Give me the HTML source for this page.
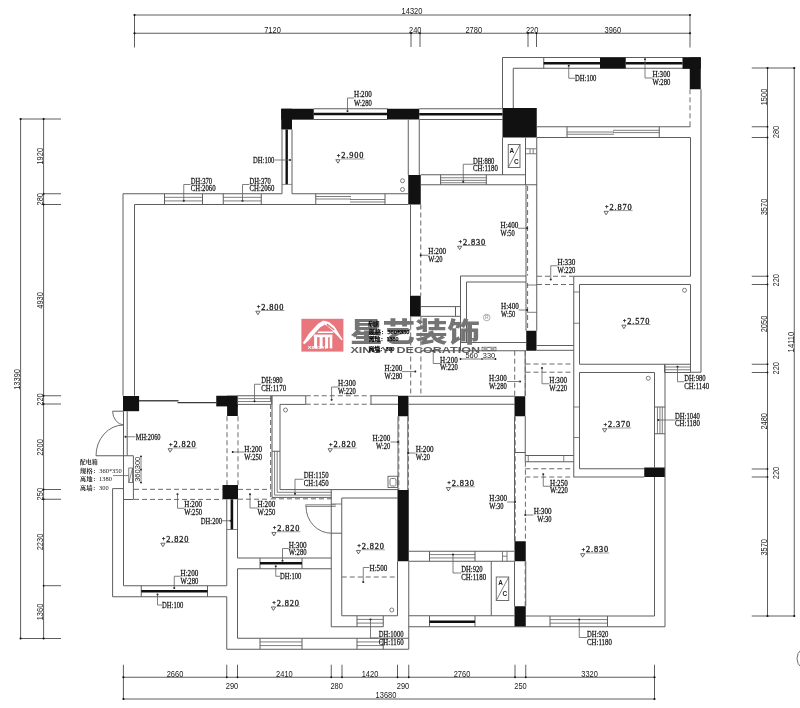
<!DOCTYPE html>
<html lang="zh">
<head>
<meta charset="utf-8">
<title>原始结构图 - 星艺装饰</title>
<style>
html,body{margin:0;padding:0;background:#fff;}
body{width:800px;height:708px;overflow:hidden;}
svg{display:block;}
.lab{font-family:"Liberation Serif","Noto Serif CJK SC",serif;}
.dim{font-family:"Liberation Sans","Noto Sans CJK SC",sans-serif;}
.cn{font-family:"Liberation Serif","Noto Serif CJK SC",serif;font-weight:500;}
.logo-cn{font-family:"Liberation Sans","Noto Sans CJK SC",sans-serif;font-weight:900;}
.logo-en{font-family:"Liberation Sans","Noto Sans CJK SC",sans-serif;font-weight:700;}
</style>
</head>
<body>
<svg width="800" height="708" viewBox="0 0 800 708">
<rect x="0" y="0" width="800" height="708" fill="#ffffff"/>
<g opacity="0.999">
<line x1="134.5" y1="15" x2="690" y2="15" stroke="#5e5e5e" stroke-width="1.0"/>
<line x1="134.5" y1="33.25" x2="690" y2="33.25" stroke="#5e5e5e" stroke-width="1.0"/>
<line x1="134.5" y1="15" x2="134.5" y2="47.5" stroke="#5e5e5e" stroke-width="1.0"/>
<line x1="690" y1="15" x2="690" y2="47.5" stroke="#5e5e5e" stroke-width="1.0"/>
<line x1="411" y1="33.25" x2="411" y2="47" stroke="#5e5e5e" stroke-width="1.0"/>
<line x1="420" y1="33.25" x2="420" y2="47" stroke="#5e5e5e" stroke-width="1.0"/>
<line x1="528" y1="33.25" x2="528" y2="47" stroke="#5e5e5e" stroke-width="1.0"/>
<line x1="536.5" y1="33.25" x2="536.5" y2="47" stroke="#5e5e5e" stroke-width="1.0"/>
<circle cx="134.5" cy="15" r="1.1" fill="#111"/>
<circle cx="134.5" cy="33.25" r="1.1" fill="#111"/>
<circle cx="690" cy="15" r="1.1" fill="#111"/>
<circle cx="690" cy="33.25" r="1.1" fill="#111"/>
<circle cx="411" cy="33.25" r="0.9" fill="#111"/>
<circle cx="420" cy="33.25" r="0.9" fill="#111"/>
<circle cx="528" cy="33.25" r="0.9" fill="#111"/>
<circle cx="536.5" cy="33.25" r="0.9" fill="#111"/>
<text class="dim" x="401.62" y="14.3" font-size="8.6" text-anchor="start" fill="#1a1a1a" textLength="20.75" lengthAdjust="spacingAndGlyphs">14320</text>
<text class="dim" x="264.2" y="32.6" font-size="8.6" text-anchor="start" fill="#1a1a1a" textLength="16.6" lengthAdjust="spacingAndGlyphs">7120</text>
<text class="dim" x="409.07" y="32.6" font-size="8.6" text-anchor="start" fill="#1a1a1a" textLength="12.45" lengthAdjust="spacingAndGlyphs">240</text>
<text class="dim" x="465.45" y="32.6" font-size="8.6" text-anchor="start" fill="#1a1a1a" textLength="16.6" lengthAdjust="spacingAndGlyphs">2780</text>
<text class="dim" x="525.98" y="32.6" font-size="8.6" text-anchor="start" fill="#1a1a1a" textLength="12.45" lengthAdjust="spacingAndGlyphs">220</text>
<text class="dim" x="604.5" y="32.6" font-size="8.6" text-anchor="start" fill="#1a1a1a" textLength="16.6" lengthAdjust="spacingAndGlyphs">3960</text>
<line x1="20.6" y1="119" x2="20.6" y2="638.5" stroke="#5e5e5e" stroke-width="1.0"/>
<line x1="43.6" y1="119" x2="43.6" y2="638.5" stroke="#5e5e5e" stroke-width="1.0"/>
<line x1="20.6" y1="119" x2="61" y2="119" stroke="#5e5e5e" stroke-width="1.0"/>
<line x1="20.6" y1="638.5" x2="61" y2="638.5" stroke="#5e5e5e" stroke-width="1.0"/>
<line x1="43.6" y1="193.75" x2="61" y2="193.75" stroke="#5e5e5e" stroke-width="1.0"/>
<circle cx="43.6" cy="193.75" r="0.9" fill="#111"/>
<line x1="43.6" y1="204.5" x2="61" y2="204.5" stroke="#5e5e5e" stroke-width="1.0"/>
<circle cx="43.6" cy="204.5" r="0.9" fill="#111"/>
<line x1="43.6" y1="395.75" x2="61" y2="395.75" stroke="#5e5e5e" stroke-width="1.0"/>
<circle cx="43.6" cy="395.75" r="0.9" fill="#111"/>
<line x1="43.6" y1="404" x2="61" y2="404" stroke="#5e5e5e" stroke-width="1.0"/>
<circle cx="43.6" cy="404" r="0.9" fill="#111"/>
<line x1="43.6" y1="489.5" x2="61" y2="489.5" stroke="#5e5e5e" stroke-width="1.0"/>
<circle cx="43.6" cy="489.5" r="0.9" fill="#111"/>
<line x1="43.6" y1="499.25" x2="61" y2="499.25" stroke="#5e5e5e" stroke-width="1.0"/>
<circle cx="43.6" cy="499.25" r="0.9" fill="#111"/>
<line x1="43.6" y1="585.7" x2="61" y2="585.7" stroke="#5e5e5e" stroke-width="1.0"/>
<circle cx="43.6" cy="585.7" r="0.9" fill="#111"/>
<circle cx="20.6" cy="119" r="1.1" fill="#111"/>
<circle cx="43.6" cy="119" r="1.1" fill="#111"/>
<circle cx="20.6" cy="638.5" r="1.1" fill="#111"/>
<circle cx="43.6" cy="638.5" r="1.1" fill="#111"/>
<text class="dim" font-size="8.6" x="-10.375" y="0" textLength="20.75" lengthAdjust="spacingAndGlyphs" fill="#1a1a1a" transform="translate(20,379.4) rotate(-90)">13390</text>
<text class="dim" font-size="8.6" x="-8.3" y="0" textLength="16.6" lengthAdjust="spacingAndGlyphs" fill="#1a1a1a" transform="translate(43.2,156.25) rotate(-90)">1920</text>
<text class="dim" font-size="8.6" x="-6.225" y="0" textLength="12.45" lengthAdjust="spacingAndGlyphs" fill="#1a1a1a" transform="translate(43.2,199.25) rotate(-90)">280</text>
<text class="dim" font-size="8.6" x="-8.3" y="0" textLength="16.6" lengthAdjust="spacingAndGlyphs" fill="#1a1a1a" transform="translate(43.2,300.4) rotate(-90)">4930</text>
<text class="dim" font-size="8.6" x="-6.225" y="0" textLength="12.45" lengthAdjust="spacingAndGlyphs" fill="#1a1a1a" transform="translate(43.2,399.5) rotate(-90)">220</text>
<text class="dim" font-size="8.6" x="-8.3" y="0" textLength="16.6" lengthAdjust="spacingAndGlyphs" fill="#1a1a1a" transform="translate(43.2,447.5) rotate(-90)">2200</text>
<text class="dim" font-size="8.6" x="-6.225" y="0" textLength="12.45" lengthAdjust="spacingAndGlyphs" fill="#1a1a1a" transform="translate(43.2,494.2) rotate(-90)">250</text>
<text class="dim" font-size="8.6" x="-8.3" y="0" textLength="16.6" lengthAdjust="spacingAndGlyphs" fill="#1a1a1a" transform="translate(43.2,542) rotate(-90)">2230</text>
<text class="dim" font-size="8.6" x="-8.3" y="0" textLength="16.6" lengthAdjust="spacingAndGlyphs" fill="#1a1a1a" transform="translate(43.2,612) rotate(-90)">1360</text>
<line x1="767.5" y1="68" x2="767.5" y2="616" stroke="#5e5e5e" stroke-width="1.0"/>
<line x1="794.25" y1="68" x2="794.25" y2="616" stroke="#5e5e5e" stroke-width="1.0"/>
<line x1="751.75" y1="68" x2="794.25" y2="68" stroke="#5e5e5e" stroke-width="1.0"/>
<line x1="751.75" y1="616" x2="794.25" y2="616" stroke="#5e5e5e" stroke-width="1.0"/>
<line x1="751.75" y1="126.75" x2="767.5" y2="126.75" stroke="#5e5e5e" stroke-width="1.0"/>
<circle cx="767.5" cy="126.75" r="0.9" fill="#111"/>
<line x1="751.75" y1="137.5" x2="767.5" y2="137.5" stroke="#5e5e5e" stroke-width="1.0"/>
<circle cx="767.5" cy="137.5" r="0.9" fill="#111"/>
<line x1="751.75" y1="276.25" x2="767.5" y2="276.25" stroke="#5e5e5e" stroke-width="1.0"/>
<circle cx="767.5" cy="276.25" r="0.9" fill="#111"/>
<line x1="751.75" y1="284.5" x2="767.5" y2="284.5" stroke="#5e5e5e" stroke-width="1.0"/>
<circle cx="767.5" cy="284.5" r="0.9" fill="#111"/>
<line x1="751.75" y1="364.25" x2="767.5" y2="364.25" stroke="#5e5e5e" stroke-width="1.0"/>
<circle cx="767.5" cy="364.25" r="0.9" fill="#111"/>
<line x1="751.75" y1="372.5" x2="767.5" y2="372.5" stroke="#5e5e5e" stroke-width="1.0"/>
<circle cx="767.5" cy="372.5" r="0.9" fill="#111"/>
<line x1="751.75" y1="469" x2="767.5" y2="469" stroke="#5e5e5e" stroke-width="1.0"/>
<circle cx="767.5" cy="469" r="0.9" fill="#111"/>
<line x1="751.75" y1="477" x2="767.5" y2="477" stroke="#5e5e5e" stroke-width="1.0"/>
<circle cx="767.5" cy="477" r="0.9" fill="#111"/>
<circle cx="767.5" cy="68" r="1.1" fill="#111"/>
<circle cx="794.25" cy="68" r="1.1" fill="#111"/>
<circle cx="767.5" cy="616" r="1.1" fill="#111"/>
<circle cx="794.25" cy="616" r="1.1" fill="#111"/>
<text class="dim" font-size="8.6" x="-8.3" y="0" textLength="16.6" lengthAdjust="spacingAndGlyphs" fill="#1a1a1a" transform="translate(767,97) rotate(-90)">1500</text>
<text class="dim" font-size="8.6" x="-8.3" y="0" textLength="16.6" lengthAdjust="spacingAndGlyphs" fill="#1a1a1a" transform="translate(767,207) rotate(-90)">3570</text>
<text class="dim" font-size="8.6" x="-8.3" y="0" textLength="16.6" lengthAdjust="spacingAndGlyphs" fill="#1a1a1a" transform="translate(767,324) rotate(-90)">2050</text>
<text class="dim" font-size="8.6" x="-8.3" y="0" textLength="16.6" lengthAdjust="spacingAndGlyphs" fill="#1a1a1a" transform="translate(767,421.3) rotate(-90)">2480</text>
<text class="dim" font-size="8.6" x="-8.3" y="0" textLength="16.6" lengthAdjust="spacingAndGlyphs" fill="#1a1a1a" transform="translate(767,547.3) rotate(-90)">3570</text>
<text class="dim" font-size="8.6" x="-6.225" y="0" textLength="12.45" lengthAdjust="spacingAndGlyphs" fill="#1a1a1a" transform="translate(779.2,132) rotate(-90)">280</text>
<text class="dim" font-size="8.6" x="-6.225" y="0" textLength="12.45" lengthAdjust="spacingAndGlyphs" fill="#1a1a1a" transform="translate(779.2,280.3) rotate(-90)">220</text>
<text class="dim" font-size="8.6" x="-6.225" y="0" textLength="12.45" lengthAdjust="spacingAndGlyphs" fill="#1a1a1a" transform="translate(779.2,368.3) rotate(-90)">220</text>
<text class="dim" font-size="8.6" x="-6.225" y="0" textLength="12.45" lengthAdjust="spacingAndGlyphs" fill="#1a1a1a" transform="translate(779.2,473) rotate(-90)">220</text>
<text class="dim" font-size="8.6" x="-10.375" y="0" textLength="20.75" lengthAdjust="spacingAndGlyphs" fill="#1a1a1a" transform="translate(793.8,342) rotate(-90)">14110</text>
<line x1="123.4" y1="677.25" x2="654.5" y2="677.25" stroke="#5e5e5e" stroke-width="1.0"/>
<line x1="123.4" y1="699" x2="654.5" y2="699" stroke="#5e5e5e" stroke-width="1.0"/>
<line x1="123.4" y1="664.7" x2="123.4" y2="699" stroke="#5e5e5e" stroke-width="1.0"/>
<line x1="654.5" y1="664.7" x2="654.5" y2="699" stroke="#5e5e5e" stroke-width="1.0"/>
<line x1="226.75" y1="664.7" x2="226.75" y2="677.25" stroke="#5e5e5e" stroke-width="1.0"/>
<circle cx="226.75" cy="677.25" r="0.9" fill="#111"/>
<line x1="237.5" y1="664.7" x2="237.5" y2="677.25" stroke="#5e5e5e" stroke-width="1.0"/>
<circle cx="237.5" cy="677.25" r="0.9" fill="#111"/>
<line x1="331.25" y1="664.7" x2="331.25" y2="677.25" stroke="#5e5e5e" stroke-width="1.0"/>
<circle cx="331.25" cy="677.25" r="0.9" fill="#111"/>
<line x1="342" y1="664.7" x2="342" y2="677.25" stroke="#5e5e5e" stroke-width="1.0"/>
<circle cx="342" cy="677.25" r="0.9" fill="#111"/>
<line x1="397.5" y1="664.7" x2="397.5" y2="677.25" stroke="#5e5e5e" stroke-width="1.0"/>
<circle cx="397.5" cy="677.25" r="0.9" fill="#111"/>
<line x1="408.75" y1="664.7" x2="408.75" y2="677.25" stroke="#5e5e5e" stroke-width="1.0"/>
<circle cx="408.75" cy="677.25" r="0.9" fill="#111"/>
<line x1="515" y1="664.7" x2="515" y2="677.25" stroke="#5e5e5e" stroke-width="1.0"/>
<circle cx="515" cy="677.25" r="0.9" fill="#111"/>
<line x1="525.75" y1="664.7" x2="525.75" y2="677.25" stroke="#5e5e5e" stroke-width="1.0"/>
<circle cx="525.75" cy="677.25" r="0.9" fill="#111"/>
<circle cx="123.4" cy="677.25" r="1.1" fill="#111"/>
<circle cx="123.4" cy="699" r="1.1" fill="#111"/>
<circle cx="654.5" cy="677.25" r="1.1" fill="#111"/>
<circle cx="654.5" cy="699" r="1.1" fill="#111"/>
<text class="dim" x="166.7" y="676.8" font-size="8.6" text-anchor="start" fill="#1a1a1a" textLength="16.6" lengthAdjust="spacingAndGlyphs">2660</text>
<text class="dim" x="276.1" y="676.8" font-size="8.6" text-anchor="start" fill="#1a1a1a" textLength="16.6" lengthAdjust="spacingAndGlyphs">2410</text>
<text class="dim" x="361.7" y="676.8" font-size="8.6" text-anchor="start" fill="#1a1a1a" textLength="16.6" lengthAdjust="spacingAndGlyphs">1420</text>
<text class="dim" x="453.7" y="676.8" font-size="8.6" text-anchor="start" fill="#1a1a1a" textLength="16.6" lengthAdjust="spacingAndGlyphs">2760</text>
<text class="dim" x="581.3" y="676.8" font-size="8.6" text-anchor="start" fill="#1a1a1a" textLength="16.6" lengthAdjust="spacingAndGlyphs">3320</text>
<text class="dim" x="225.78" y="689" font-size="8.6" text-anchor="start" fill="#1a1a1a" textLength="12.45" lengthAdjust="spacingAndGlyphs">290</text>
<text class="dim" x="330.38" y="689" font-size="8.6" text-anchor="start" fill="#1a1a1a" textLength="12.45" lengthAdjust="spacingAndGlyphs">280</text>
<text class="dim" x="396.77" y="689" font-size="8.6" text-anchor="start" fill="#1a1a1a" textLength="12.45" lengthAdjust="spacingAndGlyphs">290</text>
<text class="dim" x="514.27" y="689" font-size="8.6" text-anchor="start" fill="#1a1a1a" textLength="12.45" lengthAdjust="spacingAndGlyphs">250</text>
<text class="dim" x="375.62" y="698.4" font-size="8.6" text-anchor="start" fill="#1a1a1a" textLength="20.75" lengthAdjust="spacingAndGlyphs">13680</text>
<ellipse cx="812" cy="658.5" rx="15" ry="13" fill="none" stroke="#5e5e5e" stroke-width="0.9"/>
<line x1="123" y1="193.75" x2="123" y2="395.75" stroke="#5e5e5e" stroke-width="1.0"/>
<line x1="134.5" y1="204.5" x2="134.5" y2="395.75" stroke="#5e5e5e" stroke-width="1.0"/>
<line x1="123" y1="193.75" x2="282" y2="193.75" stroke="#5e5e5e" stroke-width="1.0"/>
<line x1="134.5" y1="204.5" x2="408.25" y2="204.5" stroke="#5e5e5e" stroke-width="1.0"/>
<line x1="292" y1="193.75" x2="408.25" y2="193.75" stroke="#5e5e5e" stroke-width="1.0"/>
<line x1="164.5" y1="193.75" x2="164.5" y2="204.5" stroke="#5e5e5e" stroke-width="1.0"/>
<line x1="202.5" y1="193.75" x2="202.5" y2="204.5" stroke="#5e5e5e" stroke-width="1.0"/>
<line x1="164.5" y1="197.33" x2="202.5" y2="197.33" stroke="#5e5e5e" stroke-width="0.8"/>
<line x1="164.5" y1="200.92" x2="202.5" y2="200.92" stroke="#5e5e5e" stroke-width="0.8"/>
<line x1="223.25" y1="193.75" x2="223.25" y2="204.5" stroke="#5e5e5e" stroke-width="1.0"/>
<line x1="261.25" y1="193.75" x2="261.25" y2="204.5" stroke="#5e5e5e" stroke-width="1.0"/>
<line x1="223.25" y1="197.33" x2="261.25" y2="197.33" stroke="#5e5e5e" stroke-width="0.8"/>
<line x1="223.25" y1="200.92" x2="261.25" y2="200.92" stroke="#5e5e5e" stroke-width="0.8"/>
<line x1="315.75" y1="193.75" x2="315.75" y2="204.5" stroke="#5e5e5e" stroke-width="1.0"/>
<line x1="385" y1="193.75" x2="385" y2="204.5" stroke="#5e5e5e" stroke-width="1.0"/>
<line x1="315.75" y1="196.5" x2="351" y2="196.5" stroke="#5e5e5e" stroke-width="0.8"/>
<line x1="315.75" y1="199" x2="351" y2="199" stroke="#5e5e5e" stroke-width="0.8"/>
<line x1="350" y1="199.5" x2="385" y2="199.5" stroke="#5e5e5e" stroke-width="0.8"/>
<line x1="350" y1="202" x2="385" y2="202" stroke="#5e5e5e" stroke-width="0.8"/>
<rect x="281.25" y="108.75" width="32.5" height="10.75" fill="#111"/>
<rect x="281.25" y="108.75" width="10.75" height="20.75" fill="#111"/>
<line x1="313.75" y1="108.75" x2="387.5" y2="108.75" stroke="#5e5e5e" stroke-width="1.0"/>
<line x1="313.75" y1="119.5" x2="387.5" y2="119.5" stroke="#5e5e5e" stroke-width="1.0"/>
<line x1="313.75" y1="114" x2="387.5" y2="114" stroke="#111" stroke-width="2.7"/>
<rect x="387" y="108.75" width="32.25" height="10.75" fill="#111"/>
<line x1="419.25" y1="108.75" x2="502.5" y2="108.75" stroke="#5e5e5e" stroke-width="1.0"/>
<line x1="419.25" y1="119.5" x2="502.5" y2="119.5" stroke="#5e5e5e" stroke-width="1.0"/>
<line x1="419.25" y1="114.25" x2="502.5" y2="114.25" stroke="#111" stroke-width="2.7"/>
<line x1="282" y1="129.5" x2="282" y2="193.75" stroke="#5e5e5e" stroke-width="1.0"/>
<line x1="292" y1="129.5" x2="292" y2="193.75" stroke="#5e5e5e" stroke-width="1.0"/>
<line x1="286.7" y1="129.5" x2="286.7" y2="184.4" stroke="#111" stroke-width="2.4"/>
<line x1="282" y1="184.4" x2="292" y2="184.4" stroke="#5e5e5e" stroke-width="0.7"/>
<line x1="292" y1="119.5" x2="313.75" y2="119.5" stroke="#5e5e5e" stroke-width="1.0"/>
<line x1="408.25" y1="119.5" x2="408.25" y2="175" stroke="#5e5e5e" stroke-width="1.0"/>
<line x1="419.25" y1="119.5" x2="419.25" y2="175" stroke="#5e5e5e" stroke-width="1.0"/>
<rect x="408.25" y="175" width="12.5" height="29.5" fill="#111"/>
<circle cx="402.5" cy="180.75" r="2" fill="none" stroke="#5e5e5e" stroke-width="0.8"/>
<circle cx="402.5" cy="189.5" r="2" fill="none" stroke="#5e5e5e" stroke-width="0.8"/>
<line x1="420.75" y1="174.75" x2="525.5" y2="174.75" stroke="#5e5e5e" stroke-width="1.0"/>
<line x1="420.75" y1="184.75" x2="537" y2="184.75" stroke="#5e5e5e" stroke-width="1.0"/>
<line x1="440.6" y1="174.75" x2="440.6" y2="184.75" stroke="#5e5e5e" stroke-width="1.0"/>
<line x1="486.3" y1="174.75" x2="486.3" y2="184.75" stroke="#5e5e5e" stroke-width="1.0"/>
<line x1="440.6" y1="177.75" x2="486.3" y2="177.75" stroke="#5e5e5e" stroke-width="0.8"/>
<line x1="440.6" y1="180.35" x2="486.3" y2="180.35" stroke="#5e5e5e" stroke-width="0.8"/>
<line x1="440.6" y1="182.75" x2="486.3" y2="182.75" stroke="#5e5e5e" stroke-width="0.8"/>
<rect x="502.5" y="108" width="34.25" height="29.5" fill="#111"/>
<line x1="502.5" y1="137.5" x2="502.5" y2="175" stroke="#5e5e5e" stroke-width="1.0"/>
<line x1="525.5" y1="137.5" x2="525.5" y2="185" stroke="#5e5e5e" stroke-width="1.0"/>
<rect x="508.25" y="144.5" width="11.75" height="23" fill="none" stroke="#5e5e5e" stroke-width="0.9"/>
<line x1="508.25" y1="167.5" x2="520" y2="144.5" stroke="#5e5e5e" stroke-width="0.8"/>
<text class="dim" x="509.6" y="153" font-size="6.4" text-anchor="start" fill="#1a1a1a" font-weight="700">A</text>
<text class="dim" x="513.9" y="163.8" font-size="6.4" text-anchor="start" fill="#1a1a1a" font-weight="700">C</text>
<line x1="536.75" y1="137.5" x2="536.75" y2="330.75" stroke="#5e5e5e" stroke-width="1.0"/>
<line x1="526" y1="148.75" x2="536.5" y2="148.75" stroke="#5e5e5e" stroke-width="0.8"/>
<line x1="526" y1="153.75" x2="536.5" y2="153.75" stroke="#5e5e5e" stroke-width="0.8"/>
<line x1="530" y1="148.75" x2="530" y2="153.75" stroke="#5e5e5e" stroke-width="0.8"/>
<line x1="533.2" y1="148.75" x2="533.2" y2="153.75" stroke="#5e5e5e" stroke-width="0.8"/>
<line x1="502.5" y1="57.5" x2="502.5" y2="108" stroke="#5e5e5e" stroke-width="1.0"/>
<line x1="513.25" y1="68.25" x2="513.25" y2="108" stroke="#5e5e5e" stroke-width="1.0"/>
<line x1="502.5" y1="57.5" x2="700.75" y2="57.5" stroke="#5e5e5e" stroke-width="1.0"/>
<line x1="513.25" y1="68.25" x2="690" y2="68.25" stroke="#5e5e5e" stroke-width="1.0"/>
<line x1="543.75" y1="57.5" x2="543.75" y2="68.25" stroke="#5e5e5e" stroke-width="1.0"/>
<line x1="543.75" y1="63.25" x2="600" y2="63.25" stroke="#111" stroke-width="2.7"/>
<line x1="625.75" y1="63.25" x2="682.5" y2="63.25" stroke="#111" stroke-width="2.7"/>
<rect x="600" y="57.5" width="25.75" height="11.0" fill="#111"/>
<rect x="682.5" y="57.5" width="18.25" height="11.25" fill="#111"/>
<rect x="689.75" y="57.5" width="11.0" height="31.75" fill="#111"/>
<line x1="701" y1="89.25" x2="701" y2="372.25" stroke="#5e5e5e" stroke-width="1.0"/>
<line x1="690.5" y1="372.25" x2="701" y2="372.25" stroke="#5e5e5e" stroke-width="1.0"/>
<line x1="690" y1="89.25" x2="690" y2="126.5" stroke="#6a6a6a" stroke-width="1.0" stroke-dasharray="5 3"/>
<line x1="536.75" y1="126.75" x2="690.5" y2="126.75" stroke="#5e5e5e" stroke-width="1.0"/>
<line x1="536.75" y1="137.5" x2="690.5" y2="137.5" stroke="#5e5e5e" stroke-width="1.0"/>
<line x1="567" y1="126.75" x2="567" y2="137.5" stroke="#5e5e5e" stroke-width="1.0"/>
<line x1="659.25" y1="126.75" x2="659.25" y2="137.5" stroke="#5e5e5e" stroke-width="1.0"/>
<line x1="567" y1="132" x2="614" y2="132" stroke="#5e5e5e" stroke-width="0.8"/>
<line x1="567" y1="134.25" x2="614" y2="134.25" stroke="#5e5e5e" stroke-width="0.8"/>
<line x1="613" y1="130.3" x2="659.25" y2="130.3" stroke="#5e5e5e" stroke-width="0.8"/>
<line x1="613" y1="132.6" x2="659.25" y2="132.6" stroke="#5e5e5e" stroke-width="0.8"/>
<line x1="690.5" y1="137.5" x2="690.5" y2="276.25" stroke="#5e5e5e" stroke-width="1.0"/>
<line x1="573.75" y1="276.25" x2="690.5" y2="276.25" stroke="#5e5e5e" stroke-width="1.0"/>
<line x1="579.5" y1="284.5" x2="690.5" y2="284.5" stroke="#5e5e5e" stroke-width="1.0"/>
<line x1="690.5" y1="284.5" x2="690.5" y2="372.25" stroke="#5e5e5e" stroke-width="1.0"/>
<line x1="573.75" y1="276.25" x2="573.75" y2="477" stroke="#5e5e5e" stroke-width="1.0"/>
<line x1="579.5" y1="284.5" x2="579.5" y2="364.25" stroke="#5e5e5e" stroke-width="1.0"/>
<line x1="573.75" y1="292" x2="579.5" y2="292" stroke="#5e5e5e" stroke-width="0.8"/>
<line x1="573.75" y1="323.25" x2="579.5" y2="323.25" stroke="#5e5e5e" stroke-width="0.8"/>
<circle cx="684.5" cy="290.25" r="2" fill="none" stroke="#5e5e5e" stroke-width="0.8"/>
<line x1="537" y1="276.25" x2="573.75" y2="276.25" stroke="#6a6a6a" stroke-width="1.0" stroke-dasharray="5 3"/>
<line x1="537" y1="284.5" x2="573.75" y2="284.5" stroke="#6a6a6a" stroke-width="1.0" stroke-dasharray="5 3"/>
<line x1="579.5" y1="364.25" x2="690.5" y2="364.25" stroke="#5e5e5e" stroke-width="1.0"/>
<line x1="664.5" y1="364.25" x2="664.5" y2="372.5" stroke="#5e5e5e" stroke-width="1.0"/>
<line x1="690.5" y1="364.25" x2="690.5" y2="372.5" stroke="#5e5e5e" stroke-width="1.0"/>
<line x1="664.5" y1="367.0" x2="690.5" y2="367.0" stroke="#5e5e5e" stroke-width="0.8"/>
<line x1="664.5" y1="369.75" x2="690.5" y2="369.75" stroke="#5e5e5e" stroke-width="0.8"/>
<line x1="664.5" y1="372.5" x2="690.5" y2="372.5" stroke="#5e5e5e" stroke-width="1.0"/>
<line x1="526" y1="185" x2="526" y2="330.75" stroke="#5e5e5e" stroke-width="1.0"/>
<line x1="527.6" y1="186" x2="527.6" y2="275.5" stroke="#6a6a6a" stroke-width="1.0" stroke-dasharray="5 3"/>
<line x1="527.6" y1="283" x2="527.6" y2="330" stroke="#6a6a6a" stroke-width="1.0" stroke-dasharray="5 3"/>
<line x1="527" y1="285" x2="537" y2="285" stroke="#5e5e5e" stroke-width="0.8"/>
<line x1="527" y1="312.3" x2="537" y2="312.3" stroke="#5e5e5e" stroke-width="0.8"/>
<rect x="526.25" y="330.75" width="10.25" height="20.0" fill="#111"/>
<line x1="410.5" y1="204.5" x2="410.5" y2="295.75" stroke="#5e5e5e" stroke-width="1.0"/>
<line x1="420.75" y1="204.5" x2="420.75" y2="295.75" stroke="#6a6a6a" stroke-width="1.0" stroke-dasharray="5 3"/>
<rect x="410" y="295.75" width="10.75" height="20.75" fill="#111"/>
<line x1="460.5" y1="276" x2="526" y2="276" stroke="#5e5e5e" stroke-width="1.0"/>
<line x1="460.5" y1="276" x2="460.5" y2="350.75" stroke="#5e5e5e" stroke-width="1.0"/>
<line x1="466.5" y1="282" x2="526" y2="282" stroke="#5e5e5e" stroke-width="1.0"/>
<line x1="466.5" y1="282" x2="466.5" y2="342.5" stroke="#5e5e5e" stroke-width="1.0"/>
<line x1="460.5" y1="342.5" x2="526" y2="342.5" stroke="#5e5e5e" stroke-width="1.0"/>
<line x1="420.75" y1="350.75" x2="526.25" y2="350.75" stroke="#5e5e5e" stroke-width="1.0"/>
<line x1="420.75" y1="306.6" x2="460.5" y2="306.6" stroke="#5e5e5e" stroke-width="1.0"/>
<line x1="420.75" y1="316.3" x2="460.5" y2="316.3" stroke="#5e5e5e" stroke-width="1.0"/>
<line x1="455.5" y1="306.6" x2="455.5" y2="316.3" stroke="#5e5e5e" stroke-width="1.0"/>
<line x1="536.5" y1="345.5" x2="573.75" y2="345.5" stroke="#5e5e5e" stroke-width="1.0"/>
<line x1="536.5" y1="350.3" x2="573.75" y2="350.3" stroke="#5e5e5e" stroke-width="1.0"/>
<line x1="410.7" y1="316.5" x2="410.7" y2="395.75" stroke="#6a6a6a" stroke-width="1.0" stroke-dasharray="5 3"/>
<line x1="420.9" y1="316.5" x2="420.9" y2="395.75" stroke="#6a6a6a" stroke-width="1.0" stroke-dasharray="5 3"/>
<line x1="514.7" y1="350.75" x2="514.7" y2="396" stroke="#6a6a6a" stroke-width="1.0" stroke-dasharray="5 3"/>
<line x1="525.2" y1="350.75" x2="525.2" y2="396" stroke="#5e5e5e" stroke-width="1.0"/>
<line x1="525.2" y1="350.75" x2="525.2" y2="396" stroke="#6a6a6a" stroke-width="1.0" stroke-dasharray="5 3"/>
<line x1="525.5" y1="364" x2="573.75" y2="364" stroke="#6a6a6a" stroke-width="1.0" stroke-dasharray="5 3"/>
<line x1="525.5" y1="372.2" x2="573.75" y2="372.2" stroke="#6a6a6a" stroke-width="1.0" stroke-dasharray="5 3"/>
<line x1="460.5" y1="359" x2="495.5" y2="359" stroke="#5e5e5e" stroke-width="0.8"/>
<circle cx="460.5" cy="359" r="0.9" fill="#111"/>
<circle cx="495.5" cy="359" r="0.9" fill="#111"/>
<circle cx="482" cy="359" r="0.8" fill="#111"/>
<rect x="482" y="347.2" width="14" height="3.6" fill="none" stroke="#5e5e5e" stroke-width="0.7"/>
<line x1="482" y1="347.2" x2="489" y2="350.8" stroke="#5e5e5e" stroke-width="0.6"/>
<line x1="489" y1="350.8" x2="496" y2="347.2" stroke="#5e5e5e" stroke-width="0.6"/>
<line x1="482" y1="350.8" x2="489" y2="347.2" stroke="#5e5e5e" stroke-width="0.6"/>
<line x1="489" y1="347.2" x2="496" y2="350.8" stroke="#5e5e5e" stroke-width="0.6"/>
<text class="dim" x="465.5" y="358.3" font-size="7.4" text-anchor="start" fill="#1a1a1a">560</text>
<text class="dim" x="482.8" y="358.3" font-size="7.4" text-anchor="start" fill="#1a1a1a">330</text>
<rect x="123" y="396" width="16.1" height="15.2" fill="#111"/>
<line x1="139" y1="400.7" x2="178.5" y2="400.7" stroke="#4a4a4a" stroke-width="1.4"/>
<line x1="177.5" y1="402.6" x2="216.25" y2="402.6" stroke="#3a3a3a" stroke-width="1.4"/>
<rect x="216.25" y="395.75" width="21.55" height="10.65" fill="#111"/>
<rect x="227.1" y="395.75" width="10.7" height="20.25" fill="#111"/>
<line x1="123.5" y1="411.2" x2="123.5" y2="585.75" stroke="#5e5e5e" stroke-width="1.0"/>
<line x1="127.2" y1="411.2" x2="127.2" y2="455.8" stroke="#5e5e5e" stroke-width="1.0"/>
<line x1="112.6" y1="411.2" x2="123.5" y2="411.2" stroke="#5e5e5e" stroke-width="1.0"/>
<path d="M112.6,411.2 A12,14 0 0 0 123.5,425" fill="none" stroke="#5e5e5e" stroke-width="0.9"/>
<path d="M96,455.8 A27.5,30.8 0 0 1 123.5,425" fill="none" stroke="#5e5e5e" stroke-width="0.9"/>
<line x1="96" y1="455.8" x2="133.4" y2="455.8" stroke="#5e5e5e" stroke-width="1.1"/>
<line x1="133.4" y1="455.8" x2="133.4" y2="499.5" stroke="#5e5e5e" stroke-width="1.0"/>
<rect x="128.8" y="468" width="3.8" height="14.6" fill="none" stroke="#5e5e5e" stroke-width="0.8"/>
<line x1="128.8" y1="482.6" x2="132.6" y2="468" stroke="#5e5e5e" stroke-width="0.7"/>
<line x1="141" y1="456.3" x2="141" y2="482.6" stroke="#5e5e5e" stroke-width="0.8"/>
<circle cx="141" cy="456.3" r="0.9" fill="#111"/>
<circle cx="141" cy="469.6" r="0.9" fill="#111"/>
<circle cx="141" cy="482.6" r="0.9" fill="#111"/>
<line x1="113" y1="475.6" x2="128.8" y2="475.6" stroke="#5e5e5e" stroke-width="0.8"/>
<line x1="112.6" y1="488.6" x2="112.6" y2="596.75" stroke="#5e5e5e" stroke-width="1.0"/>
<line x1="112.6" y1="488.6" x2="123.5" y2="488.6" stroke="#5e5e5e" stroke-width="1.0"/>
<line x1="112.6" y1="596.75" x2="226.75" y2="596.75" stroke="#5e5e5e" stroke-width="1.0"/>
<line x1="123.5" y1="499.5" x2="133.4" y2="499.5" stroke="#5e5e5e" stroke-width="1.0"/>
<line x1="123.5" y1="585.75" x2="226.75" y2="585.75" stroke="#5e5e5e" stroke-width="1.0"/>
<line x1="134" y1="489.3" x2="222.5" y2="489.3" stroke="#6a6a6a" stroke-width="1.0" stroke-dasharray="5 3"/>
<line x1="134" y1="499.4" x2="222.5" y2="499.4" stroke="#6a6a6a" stroke-width="1.0" stroke-dasharray="5 3"/>
<rect x="222.5" y="485" width="15.5" height="14.25" fill="#111"/>
<line x1="227" y1="416.25" x2="227" y2="485" stroke="#6a6a6a" stroke-width="1.0" stroke-dasharray="5 3"/>
<line x1="238" y1="416.25" x2="238" y2="485" stroke="#6a6a6a" stroke-width="1.0" stroke-dasharray="5 3"/>
<line x1="226.75" y1="499.25" x2="226.75" y2="585.75" stroke="#5e5e5e" stroke-width="1.0"/>
<line x1="237.5" y1="499.25" x2="237.5" y2="558" stroke="#5e5e5e" stroke-width="1.0"/>
<line x1="231.9" y1="499.25" x2="231.9" y2="529.5" stroke="#111" stroke-width="2.6"/>
<line x1="226.75" y1="529.5" x2="237.5" y2="529.5" stroke="#5e5e5e" stroke-width="0.8"/>
<line x1="141.25" y1="585.75" x2="141.25" y2="596.75" stroke="#5e5e5e" stroke-width="1.0"/>
<line x1="207.5" y1="585.75" x2="207.5" y2="596.75" stroke="#5e5e5e" stroke-width="1.0"/>
<line x1="141.25" y1="591.25" x2="207.5" y2="591.25" stroke="#111" stroke-width="2.7"/>
<line x1="226.75" y1="596.75" x2="226.75" y2="649.25" stroke="#5e5e5e" stroke-width="1.0"/>
<line x1="226.75" y1="649.25" x2="408.75" y2="649.25" stroke="#5e5e5e" stroke-width="1.0"/>
<line x1="237.6" y1="395.75" x2="305.75" y2="395.75" stroke="#5e5e5e" stroke-width="1.0"/>
<line x1="237.6" y1="404.4" x2="271.7" y2="404.4" stroke="#5e5e5e" stroke-width="1.0"/>
<line x1="280" y1="404.4" x2="305.75" y2="404.4" stroke="#5e5e5e" stroke-width="1.0"/>
<line x1="237.6" y1="395.75" x2="237.6" y2="404.4" stroke="#5e5e5e" stroke-width="1.0"/>
<line x1="271.7" y1="395.75" x2="271.7" y2="404.4" stroke="#5e5e5e" stroke-width="1.0"/>
<line x1="237.6" y1="398.63" x2="271.7" y2="398.63" stroke="#5e5e5e" stroke-width="0.8"/>
<line x1="237.6" y1="401.52" x2="271.7" y2="401.52" stroke="#5e5e5e" stroke-width="0.8"/>
<line x1="305.75" y1="395.75" x2="305.75" y2="404.25" stroke="#5e5e5e" stroke-width="1.0"/>
<line x1="371" y1="395.75" x2="371" y2="404.25" stroke="#5e5e5e" stroke-width="1.0"/>
<line x1="305.75" y1="395.75" x2="371" y2="395.75" stroke="#6a6a6a" stroke-width="1.0" stroke-dasharray="5 3"/>
<line x1="305.75" y1="404.25" x2="371" y2="404.25" stroke="#6a6a6a" stroke-width="1.0" stroke-dasharray="5 3"/>
<line x1="371" y1="395.75" x2="398" y2="395.75" stroke="#5e5e5e" stroke-width="1.0"/>
<line x1="371" y1="404.25" x2="398" y2="404.25" stroke="#5e5e5e" stroke-width="1.0"/>
<rect x="398" y="395.75" width="10.5" height="20.5" fill="#111"/>
<line x1="270.6" y1="396" x2="270.6" y2="498.5" stroke="#6a6a6a" stroke-width="1.0" stroke-dasharray="5 3"/>
<line x1="280" y1="404.25" x2="280" y2="489.6" stroke="#5e5e5e" stroke-width="1.0"/>
<line x1="272" y1="451.25" x2="280" y2="451.25" stroke="#5e5e5e" stroke-width="1.0"/>
<line x1="272" y1="395.75" x2="272" y2="497.4" stroke="#5e5e5e" stroke-width="1.0"/>
<line x1="274.6" y1="451.25" x2="274.6" y2="495.1" stroke="#5e5e5e" stroke-width="0.8"/>
<line x1="277.2" y1="451.25" x2="277.2" y2="492.3" stroke="#5e5e5e" stroke-width="0.8"/>
<line x1="280" y1="489.6" x2="398" y2="489.6" stroke="#5e5e5e" stroke-width="1.0"/>
<line x1="277.2" y1="492.3" x2="331.25" y2="492.3" stroke="#5e5e5e" stroke-width="0.8"/>
<line x1="274.5" y1="495.1" x2="331.25" y2="495.1" stroke="#5e5e5e" stroke-width="0.8"/>
<line x1="272" y1="497.4" x2="331.25" y2="497.4" stroke="#5e5e5e" stroke-width="1.0"/>
<line x1="271" y1="498.8" x2="331.5" y2="498.8" stroke="#6a6a6a" stroke-width="1.0" stroke-dasharray="5 3"/>
<line x1="238" y1="489.4" x2="270.5" y2="489.4" stroke="#6a6a6a" stroke-width="1.0" stroke-dasharray="5 3"/>
<line x1="238" y1="499.2" x2="270.5" y2="499.2" stroke="#6a6a6a" stroke-width="1.0" stroke-dasharray="5 3"/>
<circle cx="285.5" cy="410" r="2" fill="none" stroke="#5e5e5e" stroke-width="0.8"/>
<line x1="398" y1="416.25" x2="398" y2="490" stroke="#5e5e5e" stroke-width="1.0"/>
<line x1="398.8" y1="416.25" x2="398.8" y2="490" stroke="#6a6a6a" stroke-width="1.0" stroke-dasharray="5 3"/>
<line x1="407.8" y1="416.25" x2="407.8" y2="490" stroke="#5e5e5e" stroke-width="1.0"/>
<rect x="397.5" y="490" width="11.25" height="71.25" fill="#111"/>
<rect x="388" y="476.25" width="9.5" height="11.25" fill="none" stroke="#5e5e5e" stroke-width="0.9"/>
<rect x="390" y="478.5" width="6" height="7.5" rx="1.5" fill="none" stroke="#5e5e5e" stroke-width="0.8"/>
<line x1="331.25" y1="490" x2="331.25" y2="626.75" stroke="#5e5e5e" stroke-width="1.0"/>
<line x1="341.75" y1="498" x2="398" y2="498" stroke="#5e5e5e" stroke-width="1.0"/>
<line x1="341.75" y1="498" x2="341.75" y2="615.75" stroke="#5e5e5e" stroke-width="1.0"/>
<line x1="331.25" y1="504" x2="341.75" y2="504" stroke="#5e5e5e" stroke-width="0.8"/>
<line x1="331.25" y1="533.2" x2="341.75" y2="533.2" stroke="#5e5e5e" stroke-width="1.0"/>
<line x1="305.75" y1="504.8" x2="335.75" y2="504.8" stroke="#5e5e5e" stroke-width="0.8"/>
<line x1="305.75" y1="506.4" x2="335.75" y2="506.4" stroke="#5e5e5e" stroke-width="0.8"/>
<line x1="305.75" y1="504.8" x2="305.75" y2="506.4" stroke="#5e5e5e" stroke-width="0.8"/>
<path d="M306,506.4 A25.3,26.8 0 0 0 331.25,533.2" fill="none" stroke="#5e5e5e" stroke-width="0.9"/>
<line x1="237.5" y1="558" x2="331.25" y2="558" stroke="#5e5e5e" stroke-width="1.0"/>
<line x1="237.5" y1="568.75" x2="331.25" y2="568.75" stroke="#5e5e5e" stroke-width="1.0"/>
<line x1="260" y1="558" x2="260" y2="568.75" stroke="#5e5e5e" stroke-width="1.0"/>
<line x1="302" y1="558" x2="302" y2="568.75" stroke="#5e5e5e" stroke-width="1.0"/>
<line x1="260" y1="563.25" x2="302" y2="563.25" stroke="#111" stroke-width="2.7"/>
<line x1="237.5" y1="568.75" x2="237.5" y2="638.25" stroke="#5e5e5e" stroke-width="1.0"/>
<line x1="237.5" y1="638.25" x2="408.75" y2="638.25" stroke="#5e5e5e" stroke-width="1.0"/>
<line x1="260" y1="638.25" x2="260" y2="649.25" stroke="#5e5e5e" stroke-width="1.0"/>
<line x1="302" y1="638.25" x2="302" y2="649.25" stroke="#5e5e5e" stroke-width="1.0"/>
<line x1="260" y1="641.92" x2="302" y2="641.92" stroke="#5e5e5e" stroke-width="0.8"/>
<line x1="260" y1="645.58" x2="302" y2="645.58" stroke="#5e5e5e" stroke-width="0.8"/>
<line x1="357" y1="638.25" x2="357" y2="649.25" stroke="#5e5e5e" stroke-width="1.0"/>
<line x1="383.25" y1="638.25" x2="383.25" y2="649.25" stroke="#5e5e5e" stroke-width="1.0"/>
<line x1="357" y1="641.92" x2="383.25" y2="641.92" stroke="#5e5e5e" stroke-width="0.8"/>
<line x1="357" y1="645.58" x2="383.25" y2="645.58" stroke="#5e5e5e" stroke-width="0.8"/>
<line x1="341.75" y1="615.75" x2="397.5" y2="615.75" stroke="#5e5e5e" stroke-width="1.0"/>
<line x1="331.25" y1="626.75" x2="383.25" y2="626.75" stroke="#5e5e5e" stroke-width="1.0"/>
<line x1="357" y1="615.75" x2="357" y2="626.75" stroke="#5e5e5e" stroke-width="1.0"/>
<line x1="383.25" y1="615.75" x2="383.25" y2="626.75" stroke="#5e5e5e" stroke-width="1.0"/>
<line x1="357" y1="619.42" x2="383.25" y2="619.42" stroke="#5e5e5e" stroke-width="0.8"/>
<line x1="357" y1="623.08" x2="383.25" y2="623.08" stroke="#5e5e5e" stroke-width="0.8"/>
<line x1="397.5" y1="561.25" x2="397.5" y2="615.75" stroke="#5e5e5e" stroke-width="1.0"/>
<line x1="408.75" y1="561.25" x2="408.75" y2="649.25" stroke="#5e5e5e" stroke-width="1.0"/>
<line x1="341.75" y1="577" x2="397.5" y2="577" stroke="#6a6a6a" stroke-width="1.0" stroke-dasharray="5 3"/>
<circle cx="391.75" cy="610" r="2" fill="none" stroke="#5e5e5e" stroke-width="0.8"/>
<line x1="408.5" y1="396.25" x2="514.5" y2="396.25" stroke="#5e5e5e" stroke-width="1.0"/>
<line x1="408.5" y1="404.25" x2="514.5" y2="404.25" stroke="#5e5e5e" stroke-width="1.0"/>
<rect x="514.5" y="396.25" width="10.75" height="20.0" fill="#111"/>
<line x1="408.4" y1="416.25" x2="408.4" y2="490" stroke="#6a6a6a" stroke-width="1.0" stroke-dasharray="5 3"/>
<line x1="514.5" y1="416.25" x2="514.5" y2="541.25" stroke="#5e5e5e" stroke-width="1.0"/>
<line x1="515.2" y1="416.25" x2="515.2" y2="541.25" stroke="#6a6a6a" stroke-width="1.0" stroke-dasharray="5 3"/>
<line x1="525.25" y1="416.25" x2="525.25" y2="461.75" stroke="#5e5e5e" stroke-width="1.0"/>
<line x1="514.5" y1="452.5" x2="525.25" y2="452.5" stroke="#5e5e5e" stroke-width="1.0"/>
<rect x="514.5" y="541.25" width="11.25" height="20.0" fill="#111"/>
<rect x="514.5" y="606.25" width="11.25" height="20.5" fill="#111"/>
<line x1="514.5" y1="561.25" x2="514.5" y2="606.25" stroke="#5e5e5e" stroke-width="1.0"/>
<line x1="525.75" y1="561.25" x2="525.75" y2="606.25" stroke="#5e5e5e" stroke-width="1.0"/>
<line x1="525.2" y1="561.25" x2="525.2" y2="606.25" stroke="#6a6a6a" stroke-width="1.0" stroke-dasharray="5 3"/>
<line x1="408.75" y1="551.25" x2="514.5" y2="551.25" stroke="#5e5e5e" stroke-width="1.0"/>
<line x1="408.75" y1="561.25" x2="514.5" y2="561.25" stroke="#5e5e5e" stroke-width="1.0"/>
<line x1="429.5" y1="551.25" x2="429.5" y2="561.25" stroke="#5e5e5e" stroke-width="1.0"/>
<line x1="475" y1="551.25" x2="475" y2="561.25" stroke="#5e5e5e" stroke-width="1.0"/>
<line x1="429.5" y1="554.58" x2="475" y2="554.58" stroke="#5e5e5e" stroke-width="0.8"/>
<line x1="429.5" y1="557.92" x2="475" y2="557.92" stroke="#5e5e5e" stroke-width="0.8"/>
<line x1="502.5" y1="551.25" x2="502.5" y2="561.25" stroke="#5e5e5e" stroke-width="0.8"/>
<line x1="507" y1="551.25" x2="507" y2="561.25" stroke="#5e5e5e" stroke-width="0.8"/>
<line x1="502.5" y1="556.2" x2="507" y2="556.2" stroke="#5e5e5e" stroke-width="0.8"/>
<line x1="491.25" y1="561.25" x2="491.25" y2="615.75" stroke="#5e5e5e" stroke-width="1.0"/>
<rect x="496.25" y="577" width="12.5" height="23.5" fill="none" stroke="#5e5e5e" stroke-width="0.9"/>
<line x1="496.25" y1="600.5" x2="508.75" y2="577" stroke="#5e5e5e" stroke-width="0.8"/>
<text class="dim" x="498.2" y="584.8" font-size="6.4" text-anchor="start" fill="#1a1a1a" font-weight="700">A</text>
<text class="dim" x="502.6" y="596.2" font-size="6.4" text-anchor="start" fill="#1a1a1a" font-weight="700">C</text>
<line x1="408.75" y1="615.75" x2="514.5" y2="615.75" stroke="#5e5e5e" stroke-width="1.0"/>
<line x1="525.75" y1="616" x2="654.5" y2="616" stroke="#5e5e5e" stroke-width="1.0"/>
<line x1="408.75" y1="626.75" x2="665" y2="626.75" stroke="#5e5e5e" stroke-width="1.0"/>
<line x1="429.5" y1="615.75" x2="429.5" y2="626.75" stroke="#5e5e5e" stroke-width="1.0"/>
<line x1="475" y1="615.75" x2="475" y2="626.75" stroke="#5e5e5e" stroke-width="1.0"/>
<line x1="429.5" y1="621.75" x2="475" y2="621.75" stroke="#111" stroke-width="2.7"/>
<line x1="550" y1="616" x2="550" y2="626.75" stroke="#5e5e5e" stroke-width="1.0"/>
<line x1="607.5" y1="616" x2="607.5" y2="626.75" stroke="#5e5e5e" stroke-width="1.0"/>
<line x1="550" y1="619.58" x2="607.5" y2="619.58" stroke="#5e5e5e" stroke-width="0.8"/>
<line x1="550" y1="623.17" x2="607.5" y2="623.17" stroke="#5e5e5e" stroke-width="0.8"/>
<line x1="525.25" y1="455.5" x2="573.75" y2="455.5" stroke="#5e5e5e" stroke-width="1.0"/>
<line x1="525.25" y1="461.75" x2="573.75" y2="461.75" stroke="#5e5e5e" stroke-width="1.0"/>
<line x1="528.25" y1="455.5" x2="528.25" y2="461.75" stroke="#5e5e5e" stroke-width="0.8"/>
<line x1="563.75" y1="455.5" x2="563.75" y2="461.75" stroke="#5e5e5e" stroke-width="0.8"/>
<line x1="525.4" y1="461.75" x2="525.4" y2="541.25" stroke="#6a6a6a" stroke-width="1.0" stroke-dasharray="5 3"/>
<line x1="525.25" y1="468.75" x2="573.75" y2="468.75" stroke="#6a6a6a" stroke-width="1.0" stroke-dasharray="5 3"/>
<line x1="525.25" y1="477" x2="573.75" y2="477" stroke="#6a6a6a" stroke-width="1.0" stroke-dasharray="5 3"/>
<line x1="573.75" y1="477" x2="644.25" y2="477" stroke="#5e5e5e" stroke-width="1.0"/>
<line x1="654.5" y1="477" x2="654.5" y2="616" stroke="#5e5e5e" stroke-width="1.0"/>
<line x1="665" y1="364.25" x2="665" y2="626.75" stroke="#5e5e5e" stroke-width="1.0"/>
<line x1="579.5" y1="372.5" x2="654.5" y2="372.5" stroke="#5e5e5e" stroke-width="1.0"/>
<line x1="579.5" y1="372.5" x2="579.5" y2="468.75" stroke="#5e5e5e" stroke-width="1.0"/>
<line x1="579.5" y1="468.75" x2="644.25" y2="468.75" stroke="#5e5e5e" stroke-width="1.0"/>
<line x1="654.5" y1="372.5" x2="654.5" y2="467.5" stroke="#5e5e5e" stroke-width="1.0"/>
<line x1="654.5" y1="407" x2="665" y2="407" stroke="#5e5e5e" stroke-width="1.0"/>
<line x1="654.5" y1="433.75" x2="665" y2="433.75" stroke="#5e5e5e" stroke-width="1.0"/>
<line x1="657.44" y1="407" x2="657.44" y2="433.75" stroke="#5e5e5e" stroke-width="0.8"/>
<line x1="659.96" y1="407" x2="659.96" y2="433.75" stroke="#5e5e5e" stroke-width="0.8"/>
<line x1="662.27" y1="407" x2="662.27" y2="433.75" stroke="#5e5e5e" stroke-width="0.8"/>
<line x1="573.75" y1="407" x2="579.5" y2="407" stroke="#5e5e5e" stroke-width="0.8"/>
<line x1="573.75" y1="437.5" x2="579.5" y2="437.5" stroke="#5e5e5e" stroke-width="0.8"/>
<rect x="644.25" y="467.5" width="20.5" height="9.5" fill="#111"/>
<circle cx="648.25" cy="378.25" r="2" fill="none" stroke="#5e5e5e" stroke-width="0.8"/>
<text class="lab" x="354.0" y="97.0" font-size="9" text-anchor="start" fill="#1a1a1a" textLength="17.8" lengthAdjust="spacingAndGlyphs" stroke="#1a1a1a" stroke-width="0.28">H:200</text>
<text class="lab" x="354.0" y="105.5" font-size="9" text-anchor="start" fill="#1a1a1a" textLength="17.8" lengthAdjust="spacingAndGlyphs" stroke="#1a1a1a" stroke-width="0.28">W:280</text>
<circle cx="347.5" cy="111" r="1.0" fill="#111"/>
<line x1="347.5" y1="111" x2="347.5" y2="98" stroke="#5e5e5e" stroke-width="0.8"/>
<line x1="347.5" y1="98" x2="354" y2="98" stroke="#5e5e5e" stroke-width="0.8"/>
<text class="lab" x="253" y="163.0" font-size="9" text-anchor="start" fill="#1a1a1a" textLength="21.3" lengthAdjust="spacingAndGlyphs" stroke="#1a1a1a" stroke-width="0.28">DH:100</text>
<circle cx="290" cy="160" r="1.0" fill="#111"/>
<line x1="290" y1="160" x2="274.5" y2="160" stroke="#5e5e5e" stroke-width="0.8"/>
<text class="lab" x="190.75" y="183.75" font-size="9" text-anchor="start" fill="#1a1a1a" textLength="21.3" lengthAdjust="spacingAndGlyphs" stroke="#1a1a1a" stroke-width="0.28">DH:370</text>
<text class="lab" x="190.75" y="191.25" font-size="9" text-anchor="start" fill="#1a1a1a" textLength="24.8" lengthAdjust="spacingAndGlyphs" stroke="#1a1a1a" stroke-width="0.28">CH:2060</text>
<circle cx="183.75" cy="200.75" r="1.0" fill="#111"/>
<line x1="183.75" y1="200.75" x2="183.75" y2="184.5" stroke="#5e5e5e" stroke-width="0.8"/>
<line x1="183.75" y1="184.5" x2="190.5" y2="184.5" stroke="#5e5e5e" stroke-width="0.8"/>
<text class="lab" x="249.5" y="183.75" font-size="9" text-anchor="start" fill="#1a1a1a" textLength="21.3" lengthAdjust="spacingAndGlyphs" stroke="#1a1a1a" stroke-width="0.28">DH:370</text>
<text class="lab" x="249.5" y="191.25" font-size="9" text-anchor="start" fill="#1a1a1a" textLength="24.8" lengthAdjust="spacingAndGlyphs" stroke="#1a1a1a" stroke-width="0.28">CH:2060</text>
<circle cx="242.5" cy="200.75" r="1.0" fill="#111"/>
<line x1="242.5" y1="200.75" x2="242.5" y2="184.5" stroke="#5e5e5e" stroke-width="0.8"/>
<line x1="242.5" y1="184.5" x2="249.3" y2="184.5" stroke="#5e5e5e" stroke-width="0.8"/>
<text class="lab" x="473" y="163.5" font-size="9" text-anchor="start" fill="#1a1a1a" textLength="21.3" lengthAdjust="spacingAndGlyphs" stroke="#1a1a1a" stroke-width="0.28">DH:880</text>
<text class="lab" x="473" y="171.3" font-size="9" text-anchor="start" fill="#1a1a1a" textLength="24.8" lengthAdjust="spacingAndGlyphs" stroke="#1a1a1a" stroke-width="0.28">CH:1180</text>
<circle cx="463.25" cy="181.75" r="1.0" fill="#111"/>
<line x1="463.25" y1="181.75" x2="463.25" y2="164.25" stroke="#5e5e5e" stroke-width="0.8"/>
<line x1="463.25" y1="164.25" x2="473" y2="164.25" stroke="#5e5e5e" stroke-width="0.8"/>
<text class="lab" x="575" y="81.25" font-size="9" text-anchor="start" fill="#1a1a1a" textLength="21.3" lengthAdjust="spacingAndGlyphs" stroke="#1a1a1a" stroke-width="0.28">DH:100</text>
<circle cx="568.75" cy="65.75" r="1.0" fill="#111"/>
<line x1="568.75" y1="65.75" x2="568.75" y2="78.25" stroke="#5e5e5e" stroke-width="0.8"/>
<line x1="568.75" y1="78.25" x2="575" y2="78.25" stroke="#5e5e5e" stroke-width="0.8"/>
<text class="lab" x="652.5" y="76.75" font-size="9" text-anchor="start" fill="#1a1a1a" textLength="17.8" lengthAdjust="spacingAndGlyphs" stroke="#1a1a1a" stroke-width="0.28">H:300</text>
<text class="lab" x="652.5" y="84.95" font-size="9" text-anchor="start" fill="#1a1a1a" textLength="17.8" lengthAdjust="spacingAndGlyphs" stroke="#1a1a1a" stroke-width="0.28">W:280</text>
<circle cx="645" cy="59.25" r="1.0" fill="#111"/>
<line x1="645" y1="59.25" x2="645" y2="78" stroke="#5e5e5e" stroke-width="0.8"/>
<line x1="645" y1="78" x2="652.5" y2="78" stroke="#5e5e5e" stroke-width="0.8"/>
<text class="lab" x="428.25" y="254.25" font-size="9" text-anchor="start" fill="#1a1a1a" textLength="17.8" lengthAdjust="spacingAndGlyphs" stroke="#1a1a1a" stroke-width="0.28">H:200</text>
<text class="lab" x="428.25" y="262.05" font-size="9" text-anchor="start" fill="#1a1a1a" textLength="14.2" lengthAdjust="spacingAndGlyphs" stroke="#1a1a1a" stroke-width="0.28">W:20</text>
<circle cx="420.75" cy="255.25" r="1.0" fill="#111"/>
<line x1="420.75" y1="255.25" x2="428" y2="255.25" stroke="#5e5e5e" stroke-width="0.8"/>
<text class="lab" x="500.5" y="227.5" font-size="9" text-anchor="start" fill="#1a1a1a" textLength="17.8" lengthAdjust="spacingAndGlyphs" stroke="#1a1a1a" stroke-width="0.28">H:400</text>
<text class="lab" x="500.5" y="235.5" font-size="9" text-anchor="start" fill="#1a1a1a" textLength="14.2" lengthAdjust="spacingAndGlyphs" stroke="#1a1a1a" stroke-width="0.28">W:50</text>
<circle cx="527" cy="228.25" r="1.0" fill="#111"/>
<line x1="527" y1="228.25" x2="518" y2="228.25" stroke="#5e5e5e" stroke-width="0.8"/>
<text class="lab" x="501" y="309.25" font-size="9" text-anchor="start" fill="#1a1a1a" textLength="17.8" lengthAdjust="spacingAndGlyphs" stroke="#1a1a1a" stroke-width="0.28">H:400</text>
<text class="lab" x="501" y="316.75" font-size="9" text-anchor="start" fill="#1a1a1a" textLength="14.2" lengthAdjust="spacingAndGlyphs" stroke="#1a1a1a" stroke-width="0.28">W:50</text>
<circle cx="527" cy="310" r="1.0" fill="#111"/>
<line x1="527" y1="310" x2="518.5" y2="310" stroke="#5e5e5e" stroke-width="0.8"/>
<text class="lab" x="557.5" y="265.0" font-size="9" text-anchor="start" fill="#1a1a1a" textLength="17.8" lengthAdjust="spacingAndGlyphs" stroke="#1a1a1a" stroke-width="0.28">H:330</text>
<text class="lab" x="557.5" y="273.0" font-size="9" text-anchor="start" fill="#1a1a1a" textLength="17.8" lengthAdjust="spacingAndGlyphs" stroke="#1a1a1a" stroke-width="0.28">W:220</text>
<circle cx="550.75" cy="279.5" r="1.0" fill="#111"/>
<line x1="550.75" y1="279.5" x2="550.75" y2="265.75" stroke="#5e5e5e" stroke-width="0.8"/>
<line x1="550.75" y1="265.75" x2="557.5" y2="265.75" stroke="#5e5e5e" stroke-width="0.8"/>
<text class="lab" x="440.0" y="362.5" font-size="9" text-anchor="start" fill="#1a1a1a" textLength="17.8" lengthAdjust="spacingAndGlyphs" stroke="#1a1a1a" stroke-width="0.28">H:200</text>
<text class="lab" x="440.0" y="370.0" font-size="9" text-anchor="start" fill="#1a1a1a" textLength="17.8" lengthAdjust="spacingAndGlyphs" stroke="#1a1a1a" stroke-width="0.28">W:220</text>
<circle cx="433.25" cy="351" r="1.0" fill="#111"/>
<line x1="433.25" y1="351" x2="433.25" y2="363.5" stroke="#5e5e5e" stroke-width="0.8"/>
<line x1="433.25" y1="363.5" x2="440" y2="363.5" stroke="#5e5e5e" stroke-width="0.8"/>
<text class="lab" x="384.5" y="370.6" font-size="9" text-anchor="start" fill="#1a1a1a" textLength="17.8" lengthAdjust="spacingAndGlyphs" stroke="#1a1a1a" stroke-width="0.28">H:200</text>
<text class="lab" x="384.5" y="378.7" font-size="9" text-anchor="start" fill="#1a1a1a" textLength="17.8" lengthAdjust="spacingAndGlyphs" stroke="#1a1a1a" stroke-width="0.28">W:280</text>
<circle cx="415.3" cy="371.6" r="1.0" fill="#111"/>
<line x1="415.3" y1="371.6" x2="402" y2="371.6" stroke="#5e5e5e" stroke-width="0.8"/>
<text class="lab" x="489.0" y="381.0" font-size="9" text-anchor="start" fill="#1a1a1a" textLength="17.8" lengthAdjust="spacingAndGlyphs" stroke="#1a1a1a" stroke-width="0.28">H:300</text>
<text class="lab" x="489.0" y="388.7" font-size="9" text-anchor="start" fill="#1a1a1a" textLength="17.8" lengthAdjust="spacingAndGlyphs" stroke="#1a1a1a" stroke-width="0.28">W:280</text>
<circle cx="520" cy="381.5" r="1.0" fill="#111"/>
<line x1="520" y1="381.5" x2="507" y2="381.5" stroke="#5e5e5e" stroke-width="0.8"/>
<text class="lab" x="549.25" y="383.0" font-size="9" text-anchor="start" fill="#1a1a1a" textLength="17.8" lengthAdjust="spacingAndGlyphs" stroke="#1a1a1a" stroke-width="0.28">H:300</text>
<text class="lab" x="549.25" y="390.6" font-size="9" text-anchor="start" fill="#1a1a1a" textLength="17.8" lengthAdjust="spacingAndGlyphs" stroke="#1a1a1a" stroke-width="0.28">W:220</text>
<circle cx="542" cy="368" r="1.0" fill="#111"/>
<line x1="542" y1="368" x2="542" y2="383.75" stroke="#5e5e5e" stroke-width="0.8"/>
<line x1="542" y1="383.75" x2="549" y2="383.75" stroke="#5e5e5e" stroke-width="0.8"/>
<text class="lab" x="338.0" y="386.3" font-size="9" text-anchor="start" fill="#1a1a1a" textLength="17.8" lengthAdjust="spacingAndGlyphs" stroke="#1a1a1a" stroke-width="0.28">H:300</text>
<text class="lab" x="338.0" y="393.8" font-size="9" text-anchor="start" fill="#1a1a1a" textLength="17.8" lengthAdjust="spacingAndGlyphs" stroke="#1a1a1a" stroke-width="0.28">W:220</text>
<circle cx="331.6" cy="399.75" r="1.0" fill="#111"/>
<line x1="331.6" y1="399.75" x2="331.6" y2="387" stroke="#5e5e5e" stroke-width="0.8"/>
<line x1="331.6" y1="387" x2="338" y2="387" stroke="#5e5e5e" stroke-width="0.8"/>
<text class="lab" x="261.25" y="383.0" font-size="9" text-anchor="start" fill="#1a1a1a" textLength="21.3" lengthAdjust="spacingAndGlyphs" stroke="#1a1a1a" stroke-width="0.28">DH:980</text>
<text class="lab" x="261.25" y="391.0" font-size="9" text-anchor="start" fill="#1a1a1a" textLength="24.8" lengthAdjust="spacingAndGlyphs" stroke="#1a1a1a" stroke-width="0.28">CH:1170</text>
<circle cx="254.5" cy="401.25" r="1.0" fill="#111"/>
<line x1="254.5" y1="401.25" x2="254.5" y2="384.25" stroke="#5e5e5e" stroke-width="0.8"/>
<line x1="254.5" y1="384.25" x2="261" y2="384.25" stroke="#5e5e5e" stroke-width="0.8"/>
<text class="lab" x="135.75" y="439.75" font-size="9" text-anchor="start" fill="#1a1a1a" textLength="24.8" lengthAdjust="spacingAndGlyphs" stroke="#1a1a1a" stroke-width="0.28">MH:2060</text>
<circle cx="125.5" cy="436.75" r="1.0" fill="#111"/>
<line x1="125.5" y1="436.75" x2="135.5" y2="436.75" stroke="#5e5e5e" stroke-width="0.8"/>
<text class="lab" x="244.3" y="451.75" font-size="9" text-anchor="start" fill="#1a1a1a" textLength="17.8" lengthAdjust="spacingAndGlyphs" stroke="#1a1a1a" stroke-width="0.28">H:200</text>
<text class="lab" x="244.3" y="459.75" font-size="9" text-anchor="start" fill="#1a1a1a" textLength="17.8" lengthAdjust="spacingAndGlyphs" stroke="#1a1a1a" stroke-width="0.28">W:250</text>
<circle cx="232.75" cy="452" r="1.0" fill="#111"/>
<line x1="232.75" y1="452" x2="244" y2="452" stroke="#5e5e5e" stroke-width="0.8"/>
<text class="lab" x="184.25" y="507.25" font-size="9" text-anchor="start" fill="#1a1a1a" textLength="17.8" lengthAdjust="spacingAndGlyphs" stroke="#1a1a1a" stroke-width="0.28">H:200</text>
<text class="lab" x="184.25" y="515.0" font-size="9" text-anchor="start" fill="#1a1a1a" textLength="17.8" lengthAdjust="spacingAndGlyphs" stroke="#1a1a1a" stroke-width="0.28">W:250</text>
<circle cx="177.5" cy="494.25" r="1.0" fill="#111"/>
<line x1="177.5" y1="494.25" x2="177.5" y2="508.25" stroke="#5e5e5e" stroke-width="0.8"/>
<line x1="177.5" y1="508.25" x2="184" y2="508.25" stroke="#5e5e5e" stroke-width="0.8"/>
<text class="lab" x="257.5" y="507.25" font-size="9" text-anchor="start" fill="#1a1a1a" textLength="17.8" lengthAdjust="spacingAndGlyphs" stroke="#1a1a1a" stroke-width="0.28">H:200</text>
<text class="lab" x="257.5" y="515.0" font-size="9" text-anchor="start" fill="#1a1a1a" textLength="17.8" lengthAdjust="spacingAndGlyphs" stroke="#1a1a1a" stroke-width="0.28">W:250</text>
<circle cx="250" cy="494.25" r="1.0" fill="#111"/>
<line x1="250" y1="494.25" x2="250" y2="508" stroke="#5e5e5e" stroke-width="0.8"/>
<line x1="250" y1="508" x2="257.5" y2="508" stroke="#5e5e5e" stroke-width="0.8"/>
<text class="lab" x="200.75" y="523.75" font-size="9" text-anchor="start" fill="#1a1a1a" textLength="21.3" lengthAdjust="spacingAndGlyphs" stroke="#1a1a1a" stroke-width="0.28">DH:200</text>
<circle cx="230.5" cy="520.75" r="1.0" fill="#111"/>
<line x1="230.5" y1="520.75" x2="222" y2="520.75" stroke="#5e5e5e" stroke-width="0.8"/>
<text class="lab" x="372.5" y="441.0" font-size="9" text-anchor="start" fill="#1a1a1a" textLength="17.8" lengthAdjust="spacingAndGlyphs" stroke="#1a1a1a" stroke-width="0.28">H:200</text>
<text class="lab" x="376.05" y="448.75" font-size="9" text-anchor="start" fill="#1a1a1a" textLength="14.2" lengthAdjust="spacingAndGlyphs" stroke="#1a1a1a" stroke-width="0.28">W:20</text>
<circle cx="398" cy="442" r="1.0" fill="#111"/>
<line x1="398" y1="442" x2="390.5" y2="442" stroke="#5e5e5e" stroke-width="0.8"/>
<text class="lab" x="303.75" y="478.0" font-size="9" text-anchor="start" fill="#1a1a1a" textLength="24.8" lengthAdjust="spacingAndGlyphs" stroke="#1a1a1a" stroke-width="0.28">DH:1150</text>
<text class="lab" x="303.75" y="486.25" font-size="9" text-anchor="start" fill="#1a1a1a" textLength="24.8" lengthAdjust="spacingAndGlyphs" stroke="#1a1a1a" stroke-width="0.28">CH:1450</text>
<circle cx="295" cy="493.75" r="1.0" fill="#111"/>
<line x1="295" y1="493.75" x2="295" y2="479.25" stroke="#5e5e5e" stroke-width="0.8"/>
<line x1="295" y1="479.25" x2="303.5" y2="479.25" stroke="#5e5e5e" stroke-width="0.8"/>
<text class="lab" x="415.75" y="452.25" font-size="9" text-anchor="start" fill="#1a1a1a" textLength="17.8" lengthAdjust="spacingAndGlyphs" stroke="#1a1a1a" stroke-width="0.28">H:200</text>
<text class="lab" x="415.75" y="459.75" font-size="9" text-anchor="start" fill="#1a1a1a" textLength="14.2" lengthAdjust="spacingAndGlyphs" stroke="#1a1a1a" stroke-width="0.28">W:20</text>
<circle cx="408.25" cy="453" r="1.0" fill="#111"/>
<line x1="408.25" y1="453" x2="415.5" y2="453" stroke="#5e5e5e" stroke-width="0.8"/>
<text class="lab" x="489.25" y="501.25" font-size="9" text-anchor="start" fill="#1a1a1a" textLength="17.8" lengthAdjust="spacingAndGlyphs" stroke="#1a1a1a" stroke-width="0.28">H:300</text>
<text class="lab" x="489.25" y="509.25" font-size="9" text-anchor="start" fill="#1a1a1a" textLength="14.2" lengthAdjust="spacingAndGlyphs" stroke="#1a1a1a" stroke-width="0.28">W:30</text>
<circle cx="515" cy="502" r="1.0" fill="#111"/>
<line x1="515" y1="502" x2="507" y2="502" stroke="#5e5e5e" stroke-width="0.8"/>
<text class="lab" x="533.75" y="514.25" font-size="9" text-anchor="start" fill="#1a1a1a" textLength="17.8" lengthAdjust="spacingAndGlyphs" stroke="#1a1a1a" stroke-width="0.28">H:300</text>
<text class="lab" x="537.3" y="521.75" font-size="9" text-anchor="start" fill="#1a1a1a" textLength="14.2" lengthAdjust="spacingAndGlyphs" stroke="#1a1a1a" stroke-width="0.28">W:30</text>
<circle cx="525.25" cy="515" r="1.0" fill="#111"/>
<line x1="525.25" y1="515" x2="533.5" y2="515" stroke="#5e5e5e" stroke-width="0.8"/>
<text class="lab" x="550.0" y="485.5" font-size="9" text-anchor="start" fill="#1a1a1a" textLength="17.8" lengthAdjust="spacingAndGlyphs" stroke="#1a1a1a" stroke-width="0.28">H:250</text>
<text class="lab" x="550.0" y="493.0" font-size="9" text-anchor="start" fill="#1a1a1a" textLength="17.8" lengthAdjust="spacingAndGlyphs" stroke="#1a1a1a" stroke-width="0.28">W:220</text>
<circle cx="543.25" cy="474.25" r="1.0" fill="#111"/>
<line x1="543.25" y1="474.25" x2="543.25" y2="486.25" stroke="#5e5e5e" stroke-width="0.8"/>
<line x1="543.25" y1="486.25" x2="550" y2="486.25" stroke="#5e5e5e" stroke-width="0.8"/>
<text class="lab" x="684.25" y="380.5" font-size="9" text-anchor="start" fill="#1a1a1a" textLength="21.3" lengthAdjust="spacingAndGlyphs" stroke="#1a1a1a" stroke-width="0.28">DH:980</text>
<text class="lab" x="684.25" y="388.5" font-size="9" text-anchor="start" fill="#1a1a1a" textLength="24.8" lengthAdjust="spacingAndGlyphs" stroke="#1a1a1a" stroke-width="0.28">CH:1140</text>
<circle cx="677.5" cy="366.75" r="1.0" fill="#111"/>
<line x1="677.5" y1="366.75" x2="677.5" y2="381.75" stroke="#5e5e5e" stroke-width="0.8"/>
<line x1="677.5" y1="381.75" x2="684" y2="381.75" stroke="#5e5e5e" stroke-width="0.8"/>
<text class="lab" x="675" y="418.5" font-size="9" text-anchor="start" fill="#1a1a1a" textLength="24.8" lengthAdjust="spacingAndGlyphs" stroke="#1a1a1a" stroke-width="0.28">DH:1040</text>
<text class="lab" x="675" y="426.25" font-size="9" text-anchor="start" fill="#1a1a1a" textLength="24.8" lengthAdjust="spacingAndGlyphs" stroke="#1a1a1a" stroke-width="0.28">CH:1180</text>
<circle cx="658.25" cy="420" r="1.0" fill="#111"/>
<line x1="658.25" y1="420" x2="675" y2="420" stroke="#5e5e5e" stroke-width="0.8"/>
<text class="lab" x="180.5" y="575.5" font-size="9" text-anchor="start" fill="#1a1a1a" textLength="17.8" lengthAdjust="spacingAndGlyphs" stroke="#1a1a1a" stroke-width="0.28">H:200</text>
<text class="lab" x="180.5" y="583.5" font-size="9" text-anchor="start" fill="#1a1a1a" textLength="17.8" lengthAdjust="spacingAndGlyphs" stroke="#1a1a1a" stroke-width="0.28">W:280</text>
<circle cx="174.25" cy="588" r="1.0" fill="#111"/>
<line x1="174.25" y1="588" x2="174.25" y2="576.25" stroke="#5e5e5e" stroke-width="0.8"/>
<line x1="174.25" y1="576.25" x2="180.5" y2="576.25" stroke="#5e5e5e" stroke-width="0.8"/>
<text class="lab" x="162" y="608.0" font-size="9" text-anchor="start" fill="#1a1a1a" textLength="21.3" lengthAdjust="spacingAndGlyphs" stroke="#1a1a1a" stroke-width="0.28">DH:100</text>
<circle cx="157.5" cy="594.5" r="1.0" fill="#111"/>
<line x1="157.5" y1="594.5" x2="157.5" y2="605" stroke="#5e5e5e" stroke-width="0.8"/>
<line x1="157.5" y1="605" x2="162" y2="605" stroke="#5e5e5e" stroke-width="0.8"/>
<text class="lab" x="288.75" y="547.5" font-size="9" text-anchor="start" fill="#1a1a1a" textLength="17.8" lengthAdjust="spacingAndGlyphs" stroke="#1a1a1a" stroke-width="0.28">H:300</text>
<text class="lab" x="288.75" y="555.0" font-size="9" text-anchor="start" fill="#1a1a1a" textLength="17.8" lengthAdjust="spacingAndGlyphs" stroke="#1a1a1a" stroke-width="0.28">W:280</text>
<circle cx="282.5" cy="560.75" r="1.0" fill="#111"/>
<line x1="282.5" y1="560.75" x2="282.5" y2="548.5" stroke="#5e5e5e" stroke-width="0.8"/>
<line x1="282.5" y1="548.5" x2="288.5" y2="548.5" stroke="#5e5e5e" stroke-width="0.8"/>
<text class="lab" x="280" y="579.25" font-size="9" text-anchor="start" fill="#1a1a1a" textLength="21.3" lengthAdjust="spacingAndGlyphs" stroke="#1a1a1a" stroke-width="0.28">DH:100</text>
<circle cx="275.75" cy="566.25" r="1.0" fill="#111"/>
<line x1="275.75" y1="566.25" x2="275.75" y2="576.25" stroke="#5e5e5e" stroke-width="0.8"/>
<line x1="275.75" y1="576.25" x2="280" y2="576.25" stroke="#5e5e5e" stroke-width="0.8"/>
<text class="lab" x="369.5" y="570.5" font-size="9" text-anchor="start" fill="#1a1a1a" textLength="17.8" lengthAdjust="spacingAndGlyphs" stroke="#1a1a1a" stroke-width="0.28">H:500</text>
<circle cx="363.25" cy="582" r="1.0" fill="#111"/>
<line x1="363.25" y1="582" x2="363.25" y2="567.5" stroke="#5e5e5e" stroke-width="0.8"/>
<line x1="363.25" y1="567.5" x2="369.5" y2="567.5" stroke="#5e5e5e" stroke-width="0.8"/>
<text class="lab" x="378.75" y="636.75" font-size="9" text-anchor="start" fill="#1a1a1a" textLength="24.8" lengthAdjust="spacingAndGlyphs" stroke="#1a1a1a" stroke-width="0.28">DH:1000</text>
<text class="lab" x="378.75" y="644.75" font-size="9" text-anchor="start" fill="#1a1a1a" textLength="24.8" lengthAdjust="spacingAndGlyphs" stroke="#1a1a1a" stroke-width="0.28">CH:1160</text>
<circle cx="370.5" cy="619.5" r="1.0" fill="#111"/>
<line x1="370.5" y1="619.5" x2="370.5" y2="638" stroke="#5e5e5e" stroke-width="0.8"/>
<line x1="370.5" y1="638" x2="378.5" y2="638" stroke="#5e5e5e" stroke-width="0.8"/>
<text class="lab" x="461.25" y="571.75" font-size="9" text-anchor="start" fill="#1a1a1a" textLength="21.3" lengthAdjust="spacingAndGlyphs" stroke="#1a1a1a" stroke-width="0.28">DH:920</text>
<text class="lab" x="461.25" y="579.75" font-size="9" text-anchor="start" fill="#1a1a1a" textLength="24.8" lengthAdjust="spacingAndGlyphs" stroke="#1a1a1a" stroke-width="0.28">CH:1180</text>
<circle cx="453" cy="554.5" r="1.0" fill="#111"/>
<line x1="453" y1="554.5" x2="453" y2="573" stroke="#5e5e5e" stroke-width="0.8"/>
<line x1="453" y1="573" x2="461" y2="573" stroke="#5e5e5e" stroke-width="0.8"/>
<text class="lab" x="587" y="636.75" font-size="9" text-anchor="start" fill="#1a1a1a" textLength="21.3" lengthAdjust="spacingAndGlyphs" stroke="#1a1a1a" stroke-width="0.28">DH:920</text>
<text class="lab" x="587" y="644.75" font-size="9" text-anchor="start" fill="#1a1a1a" textLength="24.8" lengthAdjust="spacingAndGlyphs" stroke="#1a1a1a" stroke-width="0.28">CH:1180</text>
<circle cx="579.25" cy="619.5" r="1.0" fill="#111"/>
<line x1="579.25" y1="619.5" x2="579.25" y2="637.5" stroke="#5e5e5e" stroke-width="0.8"/>
<line x1="579.25" y1="637.5" x2="587" y2="637.5" stroke="#5e5e5e" stroke-width="0.8"/>
<text class="lab" x="336.8" y="157.5" font-size="6.4" text-anchor="start" fill="#1a1a1a" stroke="#1a1a1a" stroke-width="0.3">+</text>
<text class="lab" x="341.2" y="158.4" font-size="8.3" text-anchor="start" fill="#1a1a1a" textLength="22.1" lengthAdjust="spacing" stroke="#1a1a1a" stroke-width="0.3">2.900</text>
<line x1="341" y1="159.0" x2="364.4" y2="159.0" stroke="#777" stroke-width="0.7"/>
<polygon points="335.8,159.7 340.1,159.7 337.9,163.2" fill="none" stroke="#444" stroke-width="0.8"/>
<text class="lab" x="256.8" y="309.0" font-size="6.4" text-anchor="start" fill="#1a1a1a" stroke="#1a1a1a" stroke-width="0.3">+</text>
<text class="lab" x="261.2" y="309.9" font-size="8.3" text-anchor="start" fill="#1a1a1a" textLength="22.1" lengthAdjust="spacing" stroke="#1a1a1a" stroke-width="0.3">2.800</text>
<line x1="261" y1="310.5" x2="284.4" y2="310.5" stroke="#777" stroke-width="0.7"/>
<polygon points="255.8,311.2 260.1,311.2 257.9,314.7" fill="none" stroke="#444" stroke-width="0.8"/>
<text class="lab" x="458.55" y="244.0" font-size="6.4" text-anchor="start" fill="#1a1a1a" stroke="#1a1a1a" stroke-width="0.3">+</text>
<text class="lab" x="462.95" y="244.9" font-size="8.3" text-anchor="start" fill="#1a1a1a" textLength="22.1" lengthAdjust="spacing" stroke="#1a1a1a" stroke-width="0.3">2.830</text>
<line x1="462.75" y1="245.5" x2="486.15" y2="245.5" stroke="#777" stroke-width="0.7"/>
<polygon points="457.55,246.2 461.85,246.2 459.65,249.7" fill="none" stroke="#444" stroke-width="0.8"/>
<text class="lab" x="605.05" y="209.1" font-size="6.4" text-anchor="start" fill="#1a1a1a" stroke="#1a1a1a" stroke-width="0.3">+</text>
<text class="lab" x="609.45" y="210.0" font-size="8.3" text-anchor="start" fill="#1a1a1a" textLength="22.1" lengthAdjust="spacing" stroke="#1a1a1a" stroke-width="0.3">2.870</text>
<line x1="609.25" y1="210.6" x2="632.65" y2="210.6" stroke="#777" stroke-width="0.7"/>
<polygon points="604.05,211.29999999999998 608.35,211.29999999999998 606.15,214.79999999999998" fill="none" stroke="#444" stroke-width="0.8"/>
<text class="lab" x="622.8" y="323.0" font-size="6.4" text-anchor="start" fill="#1a1a1a" stroke="#1a1a1a" stroke-width="0.3">+</text>
<text class="lab" x="627.2" y="323.9" font-size="8.3" text-anchor="start" fill="#1a1a1a" textLength="22.1" lengthAdjust="spacing" stroke="#1a1a1a" stroke-width="0.3">2.570</text>
<line x1="627" y1="324.5" x2="650.4" y2="324.5" stroke="#777" stroke-width="0.7"/>
<polygon points="621.8,325.2 626.1,325.2 623.9,328.7" fill="none" stroke="#444" stroke-width="0.8"/>
<text class="lab" x="603.55" y="426.5" font-size="6.4" text-anchor="start" fill="#1a1a1a" stroke="#1a1a1a" stroke-width="0.3">+</text>
<text class="lab" x="607.95" y="427.4" font-size="8.3" text-anchor="start" fill="#1a1a1a" textLength="22.1" lengthAdjust="spacing" stroke="#1a1a1a" stroke-width="0.3">2.370</text>
<line x1="607.75" y1="428.0" x2="631.15" y2="428.0" stroke="#777" stroke-width="0.7"/>
<polygon points="602.55,428.7 606.85,428.7 604.65,432.2" fill="none" stroke="#444" stroke-width="0.8"/>
<text class="lab" x="169.05" y="446.5" font-size="6.4" text-anchor="start" fill="#1a1a1a" stroke="#1a1a1a" stroke-width="0.3">+</text>
<text class="lab" x="173.45" y="447.4" font-size="8.3" text-anchor="start" fill="#1a1a1a" textLength="22.1" lengthAdjust="spacing" stroke="#1a1a1a" stroke-width="0.3">2.820</text>
<line x1="173.25" y1="448.0" x2="196.65" y2="448.0" stroke="#777" stroke-width="0.7"/>
<polygon points="168.05,448.7 172.35,448.7 170.15,452.2" fill="none" stroke="#444" stroke-width="0.8"/>
<text class="lab" x="161.8" y="541.0" font-size="6.4" text-anchor="start" fill="#1a1a1a" stroke="#1a1a1a" stroke-width="0.3">+</text>
<text class="lab" x="166.2" y="541.9" font-size="8.3" text-anchor="start" fill="#1a1a1a" textLength="22.1" lengthAdjust="spacing" stroke="#1a1a1a" stroke-width="0.3">2.820</text>
<line x1="166" y1="542.5" x2="189.4" y2="542.5" stroke="#777" stroke-width="0.7"/>
<polygon points="160.8,543.2 165.1,543.2 162.9,546.7" fill="none" stroke="#444" stroke-width="0.8"/>
<text class="lab" x="329.05" y="446.5" font-size="6.4" text-anchor="start" fill="#1a1a1a" stroke="#1a1a1a" stroke-width="0.3">+</text>
<text class="lab" x="333.45" y="447.4" font-size="8.3" text-anchor="start" fill="#1a1a1a" textLength="22.1" lengthAdjust="spacing" stroke="#1a1a1a" stroke-width="0.3">2.820</text>
<line x1="333.25" y1="448.0" x2="356.65" y2="448.0" stroke="#777" stroke-width="0.7"/>
<polygon points="328.05,448.7 332.35,448.7 330.15,452.2" fill="none" stroke="#444" stroke-width="0.8"/>
<text class="lab" x="272.8" y="530.25" font-size="6.4" text-anchor="start" fill="#1a1a1a" stroke="#1a1a1a" stroke-width="0.3">+</text>
<text class="lab" x="277.2" y="531.15" font-size="8.3" text-anchor="start" fill="#1a1a1a" textLength="22.1" lengthAdjust="spacing" stroke="#1a1a1a" stroke-width="0.3">2.820</text>
<line x1="277" y1="531.75" x2="300.4" y2="531.75" stroke="#777" stroke-width="0.7"/>
<polygon points="271.8,532.45 276.1,532.45 273.9,535.95" fill="none" stroke="#444" stroke-width="0.8"/>
<text class="lab" x="272.3" y="604.75" font-size="6.4" text-anchor="start" fill="#1a1a1a" stroke="#1a1a1a" stroke-width="0.3">+</text>
<text class="lab" x="276.7" y="605.65" font-size="8.3" text-anchor="start" fill="#1a1a1a" textLength="22.1" lengthAdjust="spacing" stroke="#1a1a1a" stroke-width="0.3">2.820</text>
<line x1="276.5" y1="606.25" x2="299.9" y2="606.25" stroke="#777" stroke-width="0.7"/>
<polygon points="271.3,606.95 275.6,606.95 273.4,610.45" fill="none" stroke="#444" stroke-width="0.8"/>
<text class="lab" x="357.3" y="548.25" font-size="6.4" text-anchor="start" fill="#1a1a1a" stroke="#1a1a1a" stroke-width="0.3">+</text>
<text class="lab" x="361.7" y="549.15" font-size="8.3" text-anchor="start" fill="#1a1a1a" textLength="22.1" lengthAdjust="spacing" stroke="#1a1a1a" stroke-width="0.3">2.820</text>
<line x1="361.5" y1="549.75" x2="384.9" y2="549.75" stroke="#777" stroke-width="0.7"/>
<polygon points="356.3,550.45 360.6,550.45 358.4,553.95" fill="none" stroke="#444" stroke-width="0.8"/>
<text class="lab" x="447.3" y="485.25" font-size="6.4" text-anchor="start" fill="#1a1a1a" stroke="#1a1a1a" stroke-width="0.3">+</text>
<text class="lab" x="451.7" y="486.15" font-size="8.3" text-anchor="start" fill="#1a1a1a" textLength="22.1" lengthAdjust="spacing" stroke="#1a1a1a" stroke-width="0.3">2.830</text>
<line x1="451.5" y1="486.75" x2="474.9" y2="486.75" stroke="#777" stroke-width="0.7"/>
<polygon points="446.3,487.45 450.6,487.45 448.4,490.95" fill="none" stroke="#444" stroke-width="0.8"/>
<text class="lab" x="581.55" y="551.5" font-size="6.4" text-anchor="start" fill="#1a1a1a" stroke="#1a1a1a" stroke-width="0.3">+</text>
<text class="lab" x="585.95" y="552.4" font-size="8.3" text-anchor="start" fill="#1a1a1a" textLength="22.1" lengthAdjust="spacing" stroke="#1a1a1a" stroke-width="0.3">2.830</text>
<line x1="585.75" y1="553.0" x2="609.15" y2="553.0" stroke="#777" stroke-width="0.7"/>
<polygon points="580.55,553.7 584.85,553.7 582.65,557.2" fill="none" stroke="#444" stroke-width="0.8"/>
<text class="cn" x="79.8" y="463.7" font-size="6" text-anchor="start" fill="#1a1a1a" textLength="18" lengthAdjust="spacingAndGlyphs"><tspan font-weight="700">配电箱</tspan></text>
<text class="cn" x="79.8" y="472.9" font-size="6" text-anchor="start" fill="#1a1a1a" textLength="42" lengthAdjust="spacingAndGlyphs"><tspan font-weight="700">规格：</tspan>360*350</text>
<text class="cn" x="79.8" y="481.2" font-size="6" text-anchor="start" fill="#1a1a1a" textLength="32.2" lengthAdjust="spacingAndGlyphs"><tspan font-weight="700">离地：</tspan>1380</text>
<text class="cn" x="79.8" y="489.7" font-size="6" text-anchor="start" fill="#1a1a1a" textLength="28.8" lengthAdjust="spacingAndGlyphs"><tspan font-weight="700">离墙：</tspan>300</text>
<text class="dim" font-size="7.8" x="-6.2" y="0" textLength="12.4" lengthAdjust="spacingAndGlyphs" fill="#1a1a1a" transform="translate(140.2,475.6) rotate(-90)">360</text>
<text class="dim" font-size="7.8" x="-6.2" y="0" textLength="12.4" lengthAdjust="spacingAndGlyphs" fill="#1a1a1a" transform="translate(140.2,463) rotate(-90)">300</text>
<g>
<rect x="301.4" y="318.8" width="42" height="32.8" fill="#e8767c"/>
<path d="M323.3,320.5 L318,323.8 L309,333.5 L302.8,343 L304.4,344.2 L308.8,340.2 L314.2,334 L320,327.6 L324.6,324.8 Z" fill="#fff"/>
<path d="M323.3,320.5 L329,322 L334.6,326.4 L337.6,331.4 L342.6,339.4 L341.6,340.3 L336,334.3 L331,329.2 L326.8,325.8 L324.6,324.8 Z" fill="#fff"/>
<path d="M327.2,323.6 L334.8,329.6 L334,330.6 L326.4,325 Z" fill="#e8767c"/>
<path d="M318.6,331.4 H332.6 L333.6,333 H317.4 Z" fill="#fff"/>
<path d="M313.8,334.6 H332.4 V337.2 H313.8 Z" fill="#fff"/>
<rect x="314.1" y="337" width="3.0" height="11.4" fill="#fff"/>
<rect x="319.6" y="337" width="3.0" height="11.4" fill="#fff"/>
<rect x="325.1" y="337" width="3.0" height="11.4" fill="#fff"/>
<rect x="329.7" y="337" width="2.6" height="11.4" fill="#fff"/>
<text class="logo-en" x="307.8" y="348.9" font-size="3.4" text-anchor="start" fill="#fff" textLength="18.6" lengthAdjust="spacingAndGlyphs">XINGYI</text>
</g>
<text class="logo-cn" x="350" y="341.8" font-size="27" text-anchor="start" fill="#747474" textLength="130" lengthAdjust="spacingAndGlyphs">星艺装饰</text>
<text class="logo-en" x="350.5" y="352.8" font-size="8.6" text-anchor="start" fill="#5c5c5c" textLength="129.5" lengthAdjust="spacingAndGlyphs">XINGYI DECORATION</text>
<circle cx="486.7" cy="317.5" r="3.3" fill="none" stroke="#8a8a8a" stroke-width="0.7"/>
<text class="dim" x="486.7" y="319.4" font-size="5" text-anchor="middle" fill="#8a8a8a">R</text>
<text class="cn" x="368.5" y="326.15" font-size="5.4" text-anchor="start" fill="#000" textLength="11" lengthAdjust="spacingAndGlyphs" font-weight="700" stroke="#000" stroke-width="0.25">配电箱</text>
<text class="cn" x="368.5" y="333.65" font-size="5.4" text-anchor="start" fill="#000" textLength="41" lengthAdjust="spacingAndGlyphs" font-weight="700" stroke="#000" stroke-width="0.25">规格：360*350</text>
<text class="cn" x="368.5" y="341.15" font-size="5.4" text-anchor="start" fill="#000" textLength="30" lengthAdjust="spacingAndGlyphs" font-weight="700" stroke="#000" stroke-width="0.25">离地：1380</text>
<text class="cn" x="368.5" y="351.2" font-size="5.4" text-anchor="start" fill="#000" textLength="26" lengthAdjust="spacingAndGlyphs" font-weight="700" stroke="#000" stroke-width="0.25">离墙：300</text>
</g>
</svg>
</body>
</html>
